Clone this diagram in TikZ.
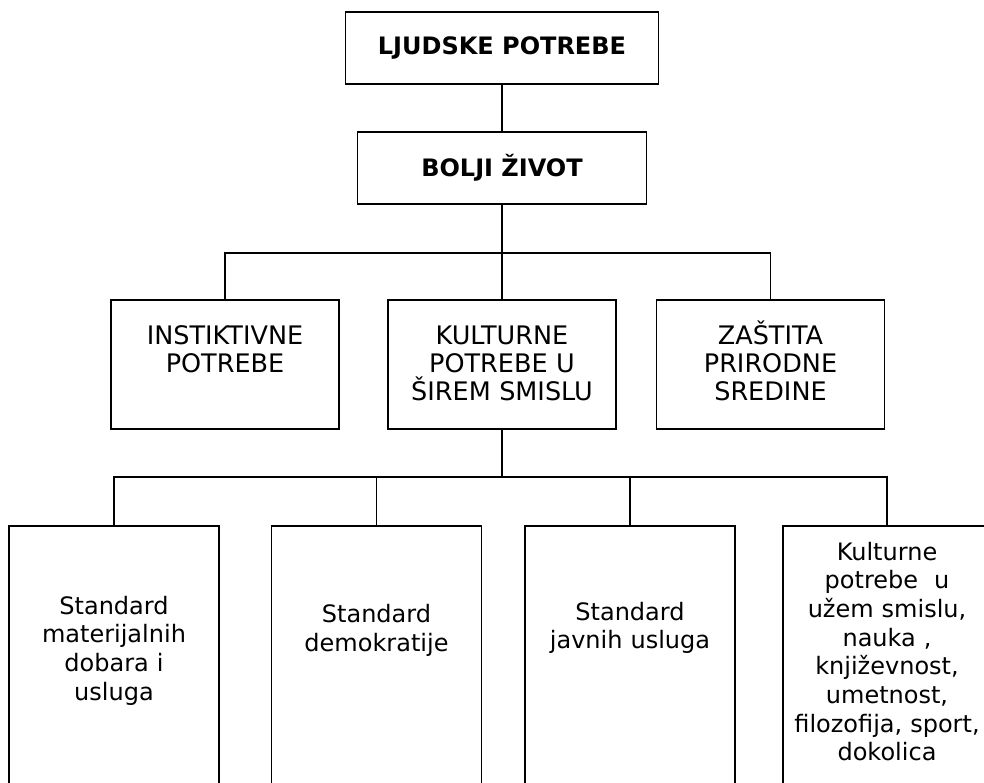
\documentclass[tikz,border=0pt]{standalone}
\usepackage{fontspec}
\setmainfont{DejaVu Sans}
\usetikzlibrary{positioning,calc}
\tikzset{
  head/.style={draw=black,line width=1.3pt,minimum height=72pt,
    font=\bfseries\fontsize{24}{28.7}\selectfont},
  cat/.style={draw=black,line width=1.3pt,minimum width=228pt,minimum height=129pt},
  sub/.style={draw=black,line width=1.3pt,minimum width=210pt,minimum height=274pt},
  txt/.style={anchor=base,align=center,inner sep=0pt,text width=205pt,
    font=\fontsize{24}{28.7}\selectfont},
  cattxt/.style={txt,font=\fontsize{25.5}{28}\selectfont},
  link/.style={draw=black,line width=1.3pt},
}

\begin{document}
\begin{tikzpicture}[x=1pt,y=-1pt]
\useasboundingbox (0,0) rectangle (984,782);
\clip (0,0) rectangle (984,782);
\coordinate (j1) at (502,253);
\coordinate (j2) at (502,477);
% top
\node[head,minimum width=313pt] (lj) at (502,48) {LJUDSKE POTREBE};
\node[head,minimum width=289pt] (bz) at (502,168) {BOLJI ŽIVOT};
% second row
\node[cat] (ins) at (225,364.5) {};
\node[cat] (kul) at (502,364.5) {};
\node[cat] (zas) at (770.5,364.5) {};
\node[cattxt] (inst) at (225,344) {INSTIKTIVNE\\POTREBE};
\node[cattxt] (kult) at (502,344) {KULTURNE\\POTREBE U\\ŠIREM SMISLU};
\node[cattxt] (zast) at (770.5,344) {ZAŠTITA\\PRIRODNE\\SREDINE};
% third row
\node[sub] (mat) at (114,663) {};
\node[sub] (dem) at (376.5,663) {};
\node[sub] (jav) at (630,663) {};
\node[sub,minimum width=208pt] (uze) at (887,663) {};
\node[txt] (matt) at (114,614) {Standard\\materijalnih\\dobara i\\usluga};
\node[txt] (demt) at (376.5,622.7) {Standard\\demokratije};
\node[txt] (javt) at (630,620) {Standard\\javnih usluga};
\node[txt] (uzet) at (887,560) {Kulturne\\potrebe~ u\\užem smislu,\\nauka ,\\književnost,\\umetnost,\\filozofija, sport,\\dokolica};
% connectors
\draw[link] (lj) -- (bz);
\draw[link] (bz) -- (kul);
\draw[link] (ins.north) |- (j1) -| (zas.north);
\draw[link] (kul.south) -- (j2);
\draw[link] (mat.north) |- (j2) -| (uze.north);
\draw[link] (dem.north) |- (j2);
\draw[link] (jav.north) |- (j2);
\end{tikzpicture}
\end{document}
